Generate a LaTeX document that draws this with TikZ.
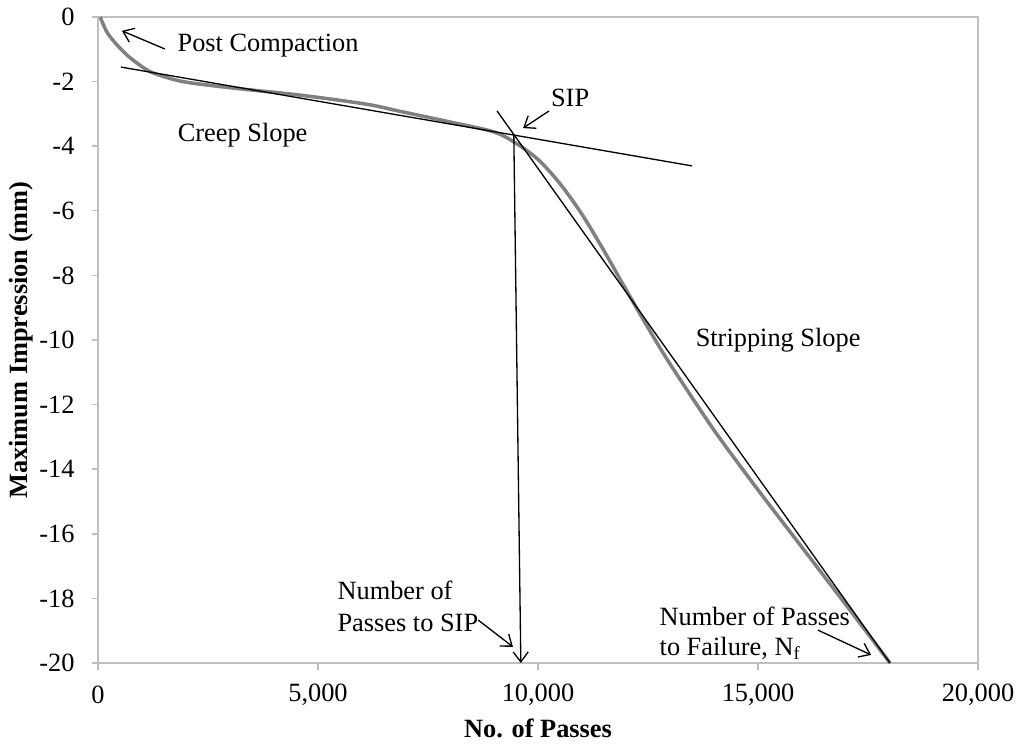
\documentclass[tikz,border=0pt]{standalone}
\usepackage{fontspec}
\setmainfont{Liberation Serif}
\usetikzlibrary{arrows.meta}

\begin{document}
\begin{tikzpicture}[x=0.88cm,y=0.646cm,line width=0.75pt,>={Straight Barb[length=2mm,width=3mm]},font=\fontsize{15}{18}\selectfont,
axis/.style={draw=gray!50,line width=0.8pt},curve/.style={draw=gray,line width=2pt},
lab/.style={inner sep=0pt,anchor=west,align=left}]
\useasboundingbox (-2.227,0.526) rectangle (20.977,-22.508);
% plot area and ticks
\draw[axis] (0,0) rectangle (20,-20);
\foreach \i in {0,2,...,20}{\draw[axis] (-0.136,-\i)--(0,-\i); \node[anchor=east,inner sep=0pt] (yl\i) at (-0.52,-\i) {\ifnum\i=0 0\else-\i\fi};};
\foreach \i/\t in {0/0,5/{5,000},10/{10,000},15/{15,000},20/{20,000}}{\draw[axis] (\i,-20)--(\i,-20.22); \node[inner sep=0pt] (xl\i) at (\i,-20.99) {\t};};
\node[font=\fontsize{15}{18}\selectfont\bfseries] (xt) at (10,-22.01) {No. of Passes};
\node[font=\fontsize{15}{18}\selectfont\bfseries,rotate=90] (yt) at (-1.74,-10) {Maximum Impression (mm)};
% measured curve
\draw[curve] plot[smooth] coordinates {(0.05,0) (0.2,-0.46) (0.39,-0.8) (0.66,-1.18) (0.95,-1.49) (1.25,-1.73) (1.93,-2.0) (3.07,-2.2) (4.6,-2.42) (6.1,-2.7) (6.86,-2.92) (8.0,-3.25) (9.0,-3.56) (9.5,-3.91) (10.0,-4.41) (10.5,-5.16) (11.0,-6.11) (11.5,-7.24) (12.0,-8.44) (12.5,-9.62) (13.0,-10.74) (14.0,-12.79) (15.0,-14.64) (16.0,-16.42) (17.0,-18.2) (18.0,-20)};
% slopes
\coordinate (c1) at (0.52,-1.55); \coordinate (c2) at (13.5,-4.61);
\coordinate (s1) at (9.07,-2.91); \coordinate (s2) at (18.0,-20);
\coordinate (sip) at (9.45,-3.65); \coordinate (nsip) at (9.61,-20);
\draw (c1)--(c2);
\draw (s1)--(s2);
\draw[->] (sip)--(nsip);
% labels
\node[lab] (pc) at (1.795,-0.87) {Post Compaction};
\node[lab] (cs) at (1.8,-3.65) {Creep Slope};
\node[inner sep=0pt] (sl) at (10.73,-2.5) {SIP};
\node[lab] (ss) at (13.57,-10.0) {Stripping Slope};
\node[lab,font=\fontsize{15}{18}\selectfont] (np) at (5.43,-18.24) {Number of\\Passes to SIP};
\node[lab,font=\fontsize{15}{17}\selectfont] (nf) at (12.75,-19.07) {Number of Passes\\to Failure, N\textsubscript{f}};
\coordinate (pa) at (1.52,-0.99); \coordinate (pb) at (0.545,-0.43);
\coordinate (sa) at (10.25,-2.91); \coordinate (sb) at (9.66,-3.44);
\coordinate (na) at (8.64,-18.67); \coordinate (nb) at (9.43,-19.5);
\coordinate (fa) at (16.36,-18.98); \coordinate (fb) at (17.57,-19.75);
\draw[->] (pa)--(pb);
\draw[->] (sa)--(sb);
\draw[->] (na)--(nb);
\draw[->] (fa)--(fb);
\end{tikzpicture}
\end{document}
